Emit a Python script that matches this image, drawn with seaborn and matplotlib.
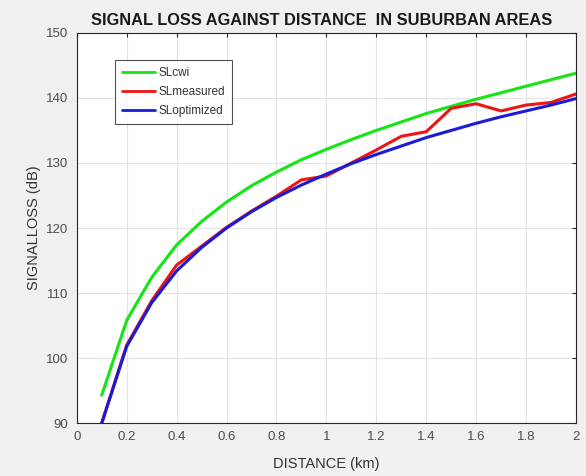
import numpy as np
import pandas as pd
import seaborn as sns
import matplotlib.pyplot as plt

# Values (distance in km, loss in dB)
DISTANCE_KM = [0.1, 0.2, 0.3, 0.4, 0.5, 0.6, 0.7, 0.8, 0.9, 1.0,
               1.1, 1.2, 1.3, 1.4, 1.5, 1.6, 1.7, 1.8, 1.9, 2.0]
SL_CWI = [94.3, 105.8, 112.4, 117.4, 121.0, 124.0, 126.5, 128.6, 130.5, 132.1,
          133.6, 135.0, 136.3, 137.6, 138.7, 139.8, 140.8, 141.8, 142.8, 143.8]
SL_MEASURED = [90.0, 102.0, 108.8, 114.3, 117.2, 120.1, 122.6, 124.9, 127.4, 128.0,
               130.0, 132.0, 134.1, 134.8, 138.4, 139.1, 138.0, 138.9, 139.3, 140.6]
SL_OPTIMIZED = [90.0, 101.8, 108.5, 113.4, 117.0, 120.0, 122.5, 124.7, 126.6, 128.3,
                129.9, 131.3, 132.6, 133.9, 135.0, 136.1, 137.1, 138.0, 138.9, 139.9]

SERIES = ["SLcwi", "SLmeasured", "SLoptimized"]
COLORS = {"SLcwi": "#14e614", "SLmeasured": "#ee1414", "SLoptimized": "#1a1ad8"}

X_TICKS = [0, 0.2, 0.4, 0.6, 0.8, 1, 1.2, 1.4, 1.6, 1.8, 2]
X_TICK_LABELS = ["0", "0.2", "0.4", "0.6", "0.8", "1", "1.2", "1.4", "1.6", "1.8", "2"]
Y_TICKS = [90, 100, 110, 120, 130, 140, 150]

df = pd.DataFrame({
    "distance": DISTANCE_KM,
    "SLcwi": SL_CWI,
    "SLmeasured": SL_MEASURED,
    "SLoptimized": SL_OPTIMIZED,
}).melt(id_vars="distance", var_name="series", value_name="loss")

sns.set_style("whitegrid")
plt.rcParams["font.family"] = ["Liberation Sans", "DejaVu Sans"]

fig = plt.figure(figsize=(5.86, 4.76), dpi=100, facecolor="#f0f0f0")
ax = fig.add_axes([0.131, 0.111, 0.852, 0.820])
ax.set_facecolor("white")

sns.lineplot(data=df, x="distance", y="loss", hue="series", hue_order=SERIES,
             palette=COLORS, linewidth=2.2, ax=ax, legend=False)

ax.set_xlim(0, 2)
ax.set_ylim(90, 150)
ax.set_xticks(X_TICKS)
ax.set_xticklabels(X_TICK_LABELS)
ax.set_yticks(Y_TICKS)
ax.grid(True, color="#e3e3e3", linewidth=0.8)
ax.tick_params(direction="in", length=3, top=True, right=True,
               labelsize=9.5, colors="#262626", labelcolor="#4d4d4d", pad=6)
for sp in ax.spines.values():
    sp.set_visible(True)
    sp.set_color("#262626")
    sp.set_linewidth(0.8)

ax.set_xlabel("DISTANCE (km)", fontsize=10.5, color="#333333", labelpad=10)
ax.set_ylabel("SIGNALLOSS (dB)", fontsize=10.5, color="#333333", labelpad=4)
ax.set_title("SIGNAL LOSS AGAINST DISTANCE  IN SUBURBAN AREAS",
             fontsize=11.8, fontweight="bold", color="#1a1a1a", pad=6, x=0.49)

handles = [plt.Line2D([], [], color=COLORS[s], linewidth=2) for s in SERIES]
leg = ax.legend(handles, SERIES, loc="upper left", bbox_to_anchor=(0.077, 0.93),
                fontsize=8.5, frameon=True, fancybox=False, edgecolor="#262626",
                handlelength=2.8, handletextpad=0.35, borderpad=0.55,
                labelspacing=0.62, borderaxespad=0)
leg.get_frame().set_linewidth(0.8)
for t in leg.get_texts():
    t.set_color("#333333")

fig.savefig("out.png", dpi=100, facecolor=fig.get_facecolor())
